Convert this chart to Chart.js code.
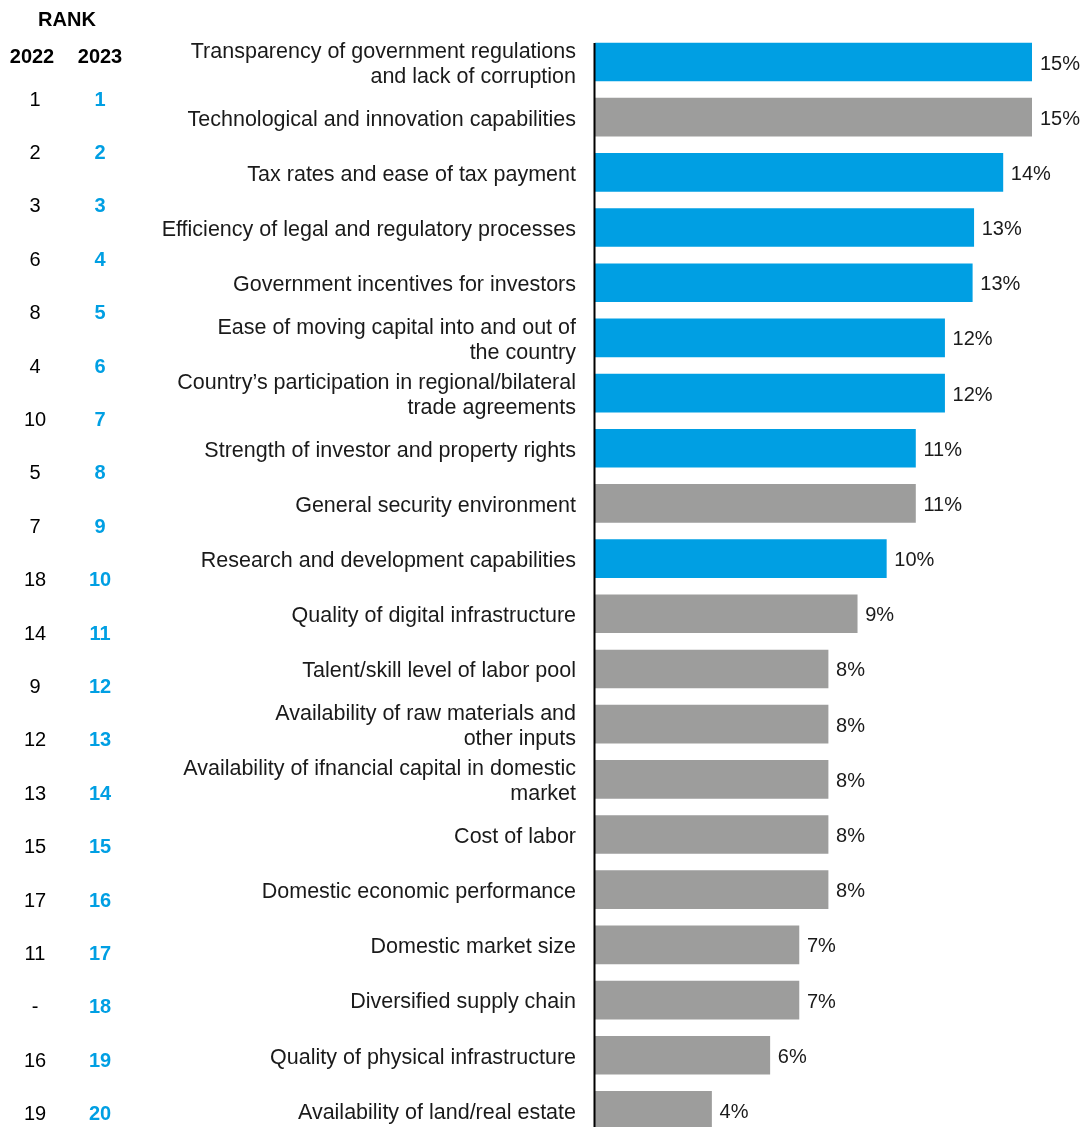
<!DOCTYPE html>
<html>
<head>
<meta charset="utf-8">
<script src="https://cdn.jsdelivr.net/npm/chart.js@4.4.1/dist/chart.umd.min.js"></script>
<style>
  html, body { margin: 0; padding: 0; background: #fff; overflow: hidden; }
  #wrap { width: 1084px; height: 1127px; overflow: hidden; }
</style>
</head>
<body>
<div id="wrap"><canvas id="c" width="1084" height="1138"></canvas></div>
<script>
const categories = [
  ["Transparency of government regulations", "and lack of corruption"],
  "Technological and innovation capabilities",
  "Tax rates and ease of tax payment",
  "Efficiency of legal and regulatory processes",
  "Government incentives for investors",
  ["Ease of moving capital into and out of", "the country"],
  ["Country\u2019s participation in regional/bilateral", "trade agreements"],
  "Strength of investor and property rights",
  "General security environment",
  "Research and development capabilities",
  "Quality of digital infrastructure",
  "Talent/skill level of labor pool",
  ["Availability of raw materials and", "other inputs"],
  ["Availability of ifnancial capital in domestic", "market"],
  "Cost of labor",
  "Domestic economic performance",
  "Domestic market size",
  "Diversified supply chain",
  "Quality of physical infrastructure",
  "Availability of land/real estate"
];
const values = [15.0, 15.0, 14.0, 13.0, 12.95, 12.0, 12.0, 11.0, 11.0, 10.0, 9.0, 8.0, 8.0, 8.0, 8.0, 8.0, 7.0, 7.0, 6.0, 4.0];
const highlighted = [true, false, true, true, true, true, true, true, false, true, false, false, false, false, false, false, false, false, false, false];
const rank2022 = ["1", "2", "3", "6", "8", "4", "10", "5", "7", "18", "14", "9", "12", "13", "15", "17", "11", "-", "16", "19"];
const rank2023 = ["1", "2", "3", "4", "5", "6", "7", "8", "9", "10", "11", "12", "13", "14", "15", "16", "17", "18", "19", "20"];
const rankTitle = "RANK";
const yearHeaders = ["2022", "2023"];

const BLUE = "#009FE3";
const GREY = "#9D9D9C";
const FONT = "'Liberation Sans', Arial, sans-serif";

const extras = {
  id: "extras",
  afterDatasetsDraw(chart) {
    const ctx = chart.ctx;
    const meta = chart.getDatasetMeta(0);
    const area = chart.chartArea;
    ctx.save();
    // value labels
    ctx.font = "20px " + FONT;
    ctx.fillStyle = "#1a1a1a";
    ctx.textAlign = "left";
    ctx.textBaseline = "middle";
    meta.data.forEach((bar, i) => {
      ctx.fillText(Math.round(values[i]) + "%", bar.x + 8, bar.y + 2);
    });
    // axis line from first bar top
    const first = meta.data[0];
    const top = first.y - first.height / 2;
    ctx.fillStyle = "#000";
    ctx.fillRect(area.left - 1.5, top, 2, chart.height - top);
    // rank table
    ctx.textAlign = "center";
    ctx.fillStyle = "#000";
    ctx.font = "bold 20px " + FONT;
    ctx.fillText(rankTitle, 67, 20);
    ctx.fillText(yearHeaders[0], 32, 57);
    ctx.fillText(yearHeaders[1], 100, 57);
    const y0 = 100, step = 53.4;
    rank2022.forEach((r, i) => {
      ctx.font = "20px " + FONT;
      ctx.fillStyle = "#000";
      ctx.fillText(r, 35, y0 + i * step);
    });
    rank2023.forEach((r, i) => {
      ctx.font = "bold 20px " + FONT;
      ctx.fillStyle = BLUE;
      ctx.fillText(r, 100, y0 + i * step);
    });
    ctx.restore();
  }
};

new Chart(document.getElementById("c"), {
  type: "bar",
  data: {
    labels: categories,
    datasets: [{
      data: values,
      backgroundColor: highlighted.map(h => h ? BLUE : GREY),
      borderWidth: 0,
      barThickness: 38
    }]
  },
  options: {
    indexAxis: "y",
    responsive: false,
    animation: false,
    devicePixelRatio: 1,
    layout: { padding: { top: 34.4, right: 52, bottom: 0, left: 0 } },
    plugins: { legend: { display: false }, tooltip: { enabled: false } },
    scales: {
      x: {
        display: false,
        min: 0,
        max: 15
      },
      y: {
        afterFit(scale) {
          scale.width = 595;
          scale.paddingTop = 0;
          scale.paddingBottom = 0;
        },
        grid: { display: false, drawTicks: false },
        border: { display: false },
        ticks: {
          padding: 19,
          labelOffset: 2.5,
          color: "#1a1a1a",
          font: { family: FONT, size: 21.5, lineHeight: 1.16 },
          autoSkip: false
        }
      }
    }
  },
  plugins: [extras]
});
</script>
</body>
</html>
